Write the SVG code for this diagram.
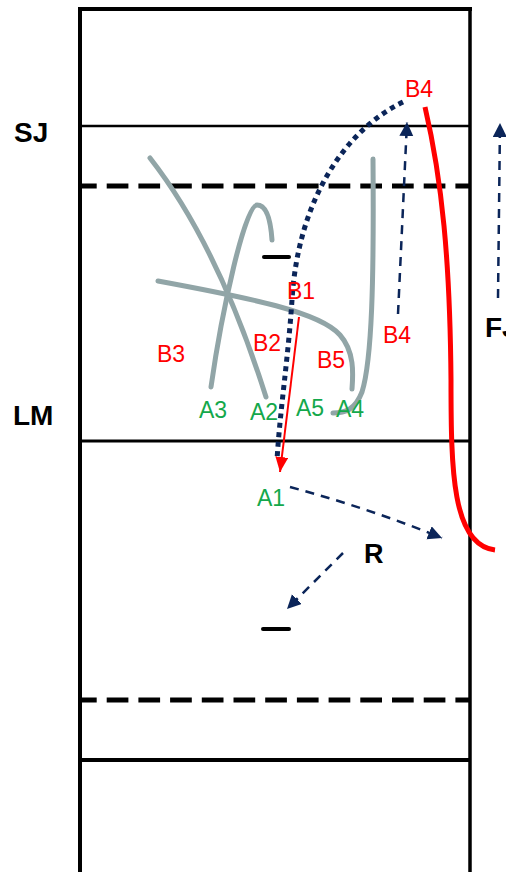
<svg xmlns="http://www.w3.org/2000/svg" width="506" height="872" viewBox="0 0 506 872">
<style>
.court{stroke:#000;fill:none}
.dash{stroke:#000;stroke-width:5;stroke-dasharray:21.7 10;stroke-dashoffset:5;fill:none}
.gray{stroke:#91a5a7;stroke-width:5;fill:none;stroke-linecap:round}
.mark{stroke:#000;stroke-width:4;stroke-linecap:round}
.nav{stroke:#0b2559;stroke-width:2.5;stroke-dasharray:9 7;fill:none}
.dot{stroke:#0b2559;stroke-width:5;stroke-dasharray:5 4.5;fill:none}
.red{fill:#ff0000;font-family:"Liberation Sans",Arial,sans-serif;font-size:23px}
.grn{fill:#14a84b;font-family:"Liberation Sans",Arial,sans-serif;font-size:23px}
.blk{fill:#000;font-family:"Liberation Sans",Arial,sans-serif;font-weight:bold;font-size:28px}
</style>
<defs>
<marker id="navArrow" markerUnits="userSpaceOnUse" markerWidth="15" markerHeight="15" refX="14" refY="7" orient="auto"><path d="M0,0 L14,7 L0,14 z" fill="#0b2559"/></marker>
<marker id="redArrow" markerUnits="userSpaceOnUse" markerWidth="16" markerHeight="14" refX="15" refY="6.5" orient="auto"><path d="M0,0 L15,6.5 L0,13 z" fill="#ff0000"/></marker>
</defs>
<rect x="0" y="0" width="506" height="872" fill="#fff"/>
<g id="court">
<line class="court" x1="80" y1="8" x2="80" y2="872" stroke-width="4"/>
<line class="court" x1="470" y1="8" x2="470" y2="872" stroke-width="3.5"/>
<line class="court" x1="78" y1="9" x2="472" y2="9" stroke-width="4"/>
<line class="court" x1="80" y1="126" x2="470" y2="126" stroke-width="2.5"/>
<line class="dash" x1="80" y1="186" x2="470" y2="186"/>
<line class="court" x1="80" y1="441" x2="470" y2="441" stroke-width="3"/>
<line class="dash" x1="80" y1="700" x2="470" y2="700"/>
<line class="court" x1="80" y1="760" x2="470" y2="760" stroke-width="4"/>
<line class="mark" x1="264" y1="257" x2="289" y2="257"/>
<line class="mark" x1="263" y1="629" x2="289" y2="629" stroke-width="3"/>
</g>
<g id="connectors">
<path id="curveA2" class="gray" d="M150,158 Q218,245 266,397"/>
<path id="curveA3" class="gray" d="M211,387 C222,310 245,205 257,205 C268,205 271,225 272,240"/>
<path id="curveB5" class="gray" d="M158,281 C250,298 320,312 340,335 C355,352 353,375 352,389"/>
<path id="curveA4" class="gray" d="M373,159 C374,280 372,360 362,392 C355,410 345,413 333,413"/>
<path id="dotted" class="dot" d="M403,102 C345,130 298,200 292,300 C288,360 280,410 277,460"/>
<line id="redArrowLine" x1="299" y1="317" x2="280" y2="472" stroke="#ff0000" stroke-width="2" marker-end="url(#redArrow)"/>
<path id="redCurve" d="M425,107 C442,180 450,260 451,380 C451,470 452,545 495,550" stroke="#ff0000" stroke-width="5" fill="none"/>
<line class="nav" x1="398" y1="314" x2="407" y2="122" marker-end="url(#navArrow)"/>
<line class="nav" x1="498" y1="298" x2="500" y2="123" marker-end="url(#navArrow)"/>
<path class="nav" d="M290,487 Q368,508 442,538" marker-end="url(#navArrow)"/>
<line class="nav" x1="343" y1="553" x2="287" y2="609" marker-end="url(#navArrow)"/>
</g>
<g id="labels">
<g id="SJ"><text class="blk" x="14" y="142">SJ</text></g>
<g id="LM"><text class="blk" x="13" y="425">LM</text></g>
<g id="FJ"><text class="blk" x="485" y="337">FJ</text></g>
<g id="R"><text class="blk" x="364" y="563" style="font-size:27px">R</text></g>
<g id="B4top"><text class="red" x="405" y="97">B4</text></g>
<g id="B1"><text class="red" x="287" y="299">B1</text></g>
<g id="B2"><text class="red" x="253" y="351">B2</text></g>
<g id="B3"><text class="red" x="157" y="362">B3</text></g>
<g id="B5"><text class="red" x="317" y="368">B5</text></g>
<g id="B4low"><text class="red" x="383" y="343">B4</text></g>
<g id="A3"><text class="grn" x="199" y="418">A3</text></g>
<g id="A2"><text class="grn" x="250" y="420">A2</text></g>
<g id="A5"><text class="grn" x="296" y="416">A5</text></g>
<g id="A4"><text class="grn" x="336" y="417">A4</text></g>
<g id="A1"><text class="grn" x="257" y="506">A1</text></g>
</g>
</svg>
